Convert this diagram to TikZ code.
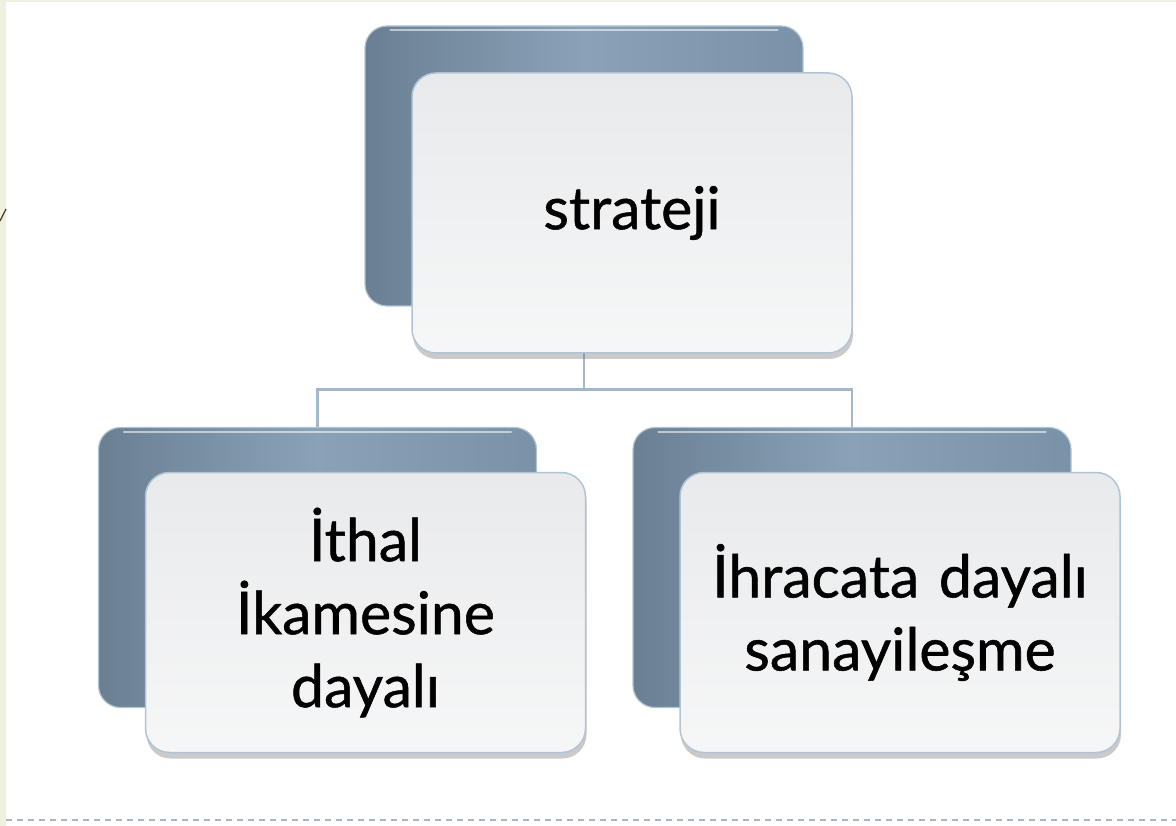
\documentclass[tikz,border=0pt]{standalone}
\usepackage{fontspec}
\setmainfont{Lato}
\newfontfamily\cardfont{Lato}[FakeBold=0.9, WordSpace=0.8]
\usepackage{xcolor}
\usetikzlibrary{positioning, calc, shadows, backgrounds}
\definecolor{slatedark}{RGB}{106, 127, 146}
\definecolor{slatemid}{RGB}{138, 162, 184}
\definecolor{slatelight}{RGB}{122, 146, 167}
\definecolor{paperwhite}{RGB}{240, 241, 242}
\definecolor{edgeblue}{RGB}{176, 196, 214}
\definecolor{linkblue}{RGB}{160, 183, 204}
\definecolor{stripbeige}{RGB}{238, 240, 224}

\begin{document}
\begin{tikzpicture}[
    x=1pt, y=-1pt, % work in pixels of the slide
    backbox/.style={ % dark card behind each label
        rectangle,
        rounded corners=22pt,
        minimum width=438pt,
        minimum height=280pt,
        inner sep=0pt,
        draw=edgeblue, line width=1.2pt,
        left color=slatedark, right color=slatelight, middle color=slatemid
    },
    frontbox/.style={ % light card carrying the text
        rectangle,
        rounded corners=24pt,
        minimum width=440pt,
        minimum height=280pt,
        text width=400pt,
        align=center,
        font=\cardfont\fontsize{59}{73}\selectfont,
        draw=edgeblue, line width=1.5pt,
        top color=paperwhite!97!black, bottom color=paperwhite!60!white,
        drop shadow={shadow xshift=1pt, shadow yshift=-6pt, opacity=0.35, fill=black!60}
    },
    link/.style={draw=linkblue, line width=2.8pt},
    gloss/.style={white, opacity=0.55, line width=2pt, line cap=round}
]
\useasboundingbox (0,0) rectangle (1176,826);

% slide margin
\fill[stripbeige] (0,0) rectangle (6,826);
\fill[stripbeige] (0,0) rectangle (1176,2);
\draw[black!55!brown, line width=1.2pt] (0,221) -- (6,209);

% Back cards
\node[backbox] (topback) at (584,166) {};
\node[backbox] (leftback) at (317.5,567.5) {};
\node[backbox] (rightback) at (852,567.5) {};

% top gloss on the back cards
\foreach \b in {topback, leftback, rightback} {
    \draw[gloss] ($(\b.north west)+(26,5)$) -- ($(\b.north east)+(-26,5)$);
}

% Front cards
\node[frontbox] (strategy) at ($(topback)+(48,47)$) {strateji};
\node[frontbox] (import) at ($(leftback)+(48,45)$) {İthal\\İkamesine\\dayalı};
\node[frontbox] (export) at ($(rightback)+(48,45)$) {İhracata dayalı\\sanayileşme};

% Tree lines behind the cards
\begin{pgfonlayer}{background}
    \coordinate (split) at ($(topback.south)+(0,83)$);
    \draw[link] (topback.south) -- (split) -| (leftback.north);
    \draw[link] (split) -| (rightback.north);
\end{pgfonlayer}

% dashed footer rule
\coordinate (ruleL) at (6,820);
\coordinate (ruleR) at (1176,820);
\draw[linkblue, line width=1.5pt, dash pattern=on 6pt off 5pt] (ruleL) -- (ruleR);

\end{tikzpicture}
\end{document}
